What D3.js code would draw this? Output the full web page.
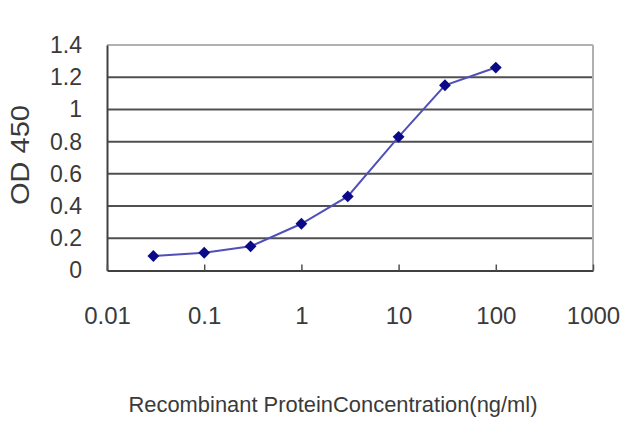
<!DOCTYPE html>
<html>
<head>
<meta charset="utf-8">
<script src="https://cdn.jsdelivr.net/npm/d3@7"></script>
<style>
  body { margin: 0; background: #fff; }
  text { font-family: "Liberation Sans", Arial, sans-serif; fill: #3a3a3a; }
</style>
</head>
<body>
<div id="chart"></div>
<script>
var concentrations = [0.03, 0.1, 0.3, 1, 3, 10, 30, 100];
var odValues = [0.09, 0.11, 0.15, 0.29, 0.46, 0.83, 1.15, 1.26];
var xTicks = [0.01, 0.1, 1, 10, 100, 1000];
var xTickLabels = ["0.01", "0.1", "1", "10", "100", "1000"];
var yTicks = [0, 0.2, 0.4, 0.6, 0.8, 1, 1.2, 1.4];
var yTickLabels = ["0", "0.2", "0.4", "0.6", "0.8", "1", "1.2", "1.4"];

var w = 640,
    h = 427,
    plotLeft = 107,
    plotRight = 593,
    plotTop = 45,
    plotBottom = 270.5;

var svg = d3.select("#chart")
            .append("svg")
            .attr("width", w)
            .attr("height", h);

var x = d3.scaleLog().domain([0.01, 1000]).range([plotLeft, plotRight]);
var y = d3.scaleLinear().domain([0, 1.4]).range([plotBottom, plotTop]);

// gridlines
svg.selectAll("line.grid")
   .data(yTicks.slice(1))
   .enter()
   .append("line")
   .attr("class", "grid")
   .attr("x1", plotLeft)
   .attr("x2", plotRight)
   .attr("y1", function(d) { return y(d); })
   .attr("y2", function(d) { return y(d); })
   .style("stroke", function(d) { return d === 1.4 ? "#b0b0b0" : "#505050"; })
   .style("stroke-width", 2);

// right border
svg.append("line")
   .attr("x1", plotRight).attr("x2", plotRight)
   .attr("y1", plotTop).attr("y2", plotBottom)
   .style("stroke", "#b0b0b0")
   .style("stroke-width", 2);

// y axis
svg.append("g")
   .attr("transform", "translate(" + plotLeft + ",0)")
   .call(d3.axisLeft(y).tickValues(yTicks).tickSize(0).tickPadding(25)
           .tickFormat(function(d, i) { return yTickLabels[i]; }))
   .call(function(g) {
       g.select(".domain").style("stroke", "#404040").style("stroke-width", 2);
       g.selectAll("text").style("font-size", "23px").style("fill", "#3a3a3a")
        .style("font-family", "'Liberation Sans', Arial, sans-serif");
   });

// x axis
svg.append("g")
   .attr("transform", "translate(0," + plotBottom + ")")
   .call(d3.axisBottom(x).tickValues(xTicks).tickSizeInner(-6).tickSizeOuter(0).tickPadding(36)
           .tickFormat(function(d, i) { return xTickLabels[i]; }))
   .call(function(g) {
       g.select(".domain").style("stroke", "#404040").style("stroke-width", 2);
       g.selectAll(".tick line").style("stroke", "#505050").style("stroke-width", 1.5);
       g.selectAll("text").style("font-size", "24px").style("fill", "#3a3a3a")
        .style("font-family", "'Liberation Sans', Arial, sans-serif");
   });

// curve
var line = d3.line()
             .x(function(d, i) { return x(concentrations[i]); })
             .y(function(d) { return y(d); });

svg.append("path")
   .datum(odValues)
   .attr("d", line)
   .style("fill", "none")
   .style("stroke", "#5050b8")
   .style("stroke-width", 2);

svg.selectAll("path.marker")
   .data(odValues)
   .enter()
   .append("path")
   .attr("class", "marker")
   .attr("d", d3.symbol().type(d3.symbolSquare).size(70))
   .attr("transform", function(d, i) {
       return "translate(" + x(concentrations[i]) + "," + y(d) + ") rotate(45)";
   })
   .style("fill", "#0a0a88");

// axis titles
svg.append("text")
   .attr("transform", "translate(20,155) rotate(-90)")
   .attr("text-anchor", "middle")
   .attr("dy", "0.35em")
   .attr("textLength", 100)
   .attr("lengthAdjust", "spacingAndGlyphs")
   .style("font-size", "25px")
   .text("OD 450");

svg.append("text")
   .attr("x", 333)
   .attr("y", 412)
   .attr("text-anchor", "middle")
   .attr("textLength", 409)
   .attr("lengthAdjust", "spacingAndGlyphs")
   .style("font-size", "22px")
   .text("Recombinant ProteinConcentration(ng/ml)");
</script>
</body>
</html>
